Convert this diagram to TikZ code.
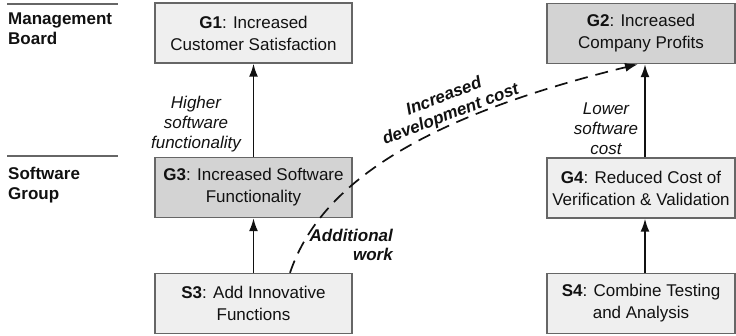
\documentclass[tikz,border=0pt]{standalone}
\usepackage{fontspec}
\setmainfont{Liberation Sans}
\usetikzlibrary{arrows.meta}
\definecolor{lightbox}{HTML}{EFEFEF}
\definecolor{darkbox}{HTML}{D3D3D3}
\definecolor{boxline}{HTML}{666666}
\definecolor{ink}{HTML}{111111}
\begin{document}
\begin{tikzpicture}[x=1pt,y=-1pt,
  goalbox/.style={draw=boxline, line width=1.4pt, minimum height=60pt, align=center, inner sep=0pt, font=\fontsize{17}{22}\selectfont, text=ink},
  leftbox/.style={goalbox, minimum width=197pt},
  rightbox/.style={goalbox, minimum width=188pt},
  lightfill/.style={fill=lightbox},
  darkfill/.style={fill=darkbox},
  lbl/.style={font=\itshape\fontsize{17}{20}\selectfont, align=center, text=ink, inner sep=0pt},
  blbl/.style={font=\bfseries\itshape\fontsize{17}{19}\selectfont, text=ink, inner sep=0pt},
  link/.style={line width=1.7pt, draw=ink, -{Latex[length=13pt,width=9pt]}},
  dlink/.style={link, dash pattern=on 13pt off 8pt},
  head/.style={font=\bfseries\fontsize{17}{20}\selectfont, align=left, text=ink, anchor=north west, inner sep=0pt},
  laneline/.style={draw=boxline, line width=1.6pt}
]
\useasboundingbox (0,0) rectangle (736,336);

% lane headings
\coordinate (l1a) at (7,4);
\coordinate (l1b) at (118,4);
\coordinate (l2a) at (7,156);
\coordinate (l2b) at (118,156);
\draw[laneline] (l1a) -- (l1b);
\draw[laneline] (l2a) -- (l2b);
\node[head] (mb) at (8,13) {Management\\Board};
\node[head] (sg) at (8,167) {Software\\Group};

% boxes
\node[leftbox, lightfill] (G1) at (253.5,33) {\textbf{G1}: Increased\\Customer Satisfaction};
\node[leftbox, darkfill] (G3) at (253.5,187.5) {\textbf{G3}: Increased Software\\Functionality};
\node[leftbox, lightfill] (S3) at (253.5,303.5) {\textbf{S3}: Add Innovative\\Functions};
\node[rightbox, darkfill] (G2) at (641,33.5) {\textbf{G2}: Increased\\Company Profits};
\node[rightbox, lightfill] (G4) at (641,188) {\textbf{G4}: Reduced Cost of\\Verification \& Validation};
\node[rightbox, lightfill] (S4) at (641,303.5) {\textbf{S4}: Combine Testing\\and Analysis};

% solid links
\draw[link] (S3.north) -- (G3.south);
\draw[link] (G3.north) -- (G1.south);
\draw[link] ([xshift=4pt]S4.north) -- ([xshift=4pt]G4.south);
\draw[link] ([xshift=4pt]G4.north) -- ([xshift=4pt]G2.south);

% labels
\node[lbl] (hl) at (196,124) {Higher\\software\\functionality};
\node[lbl] (ll) at (606,129) {Lower\\software\\cost};
\node[blbl, align=right, anchor=north east] (aw) at (393,229) {Additional\\work};

% dashed link
\coordinate (dstart) at ([xshift=36.5pt]S3.north);
\coordinate (dend) at ([xshift=-3pt]G2.south);
\draw[dlink] (dstart) .. controls (318,190) and (410,120) .. (dend);
\node[blbl, align=center, rotate=21] (idc) at (447.5,106) {Increased\\development cost};
\end{tikzpicture}
\end{document}
